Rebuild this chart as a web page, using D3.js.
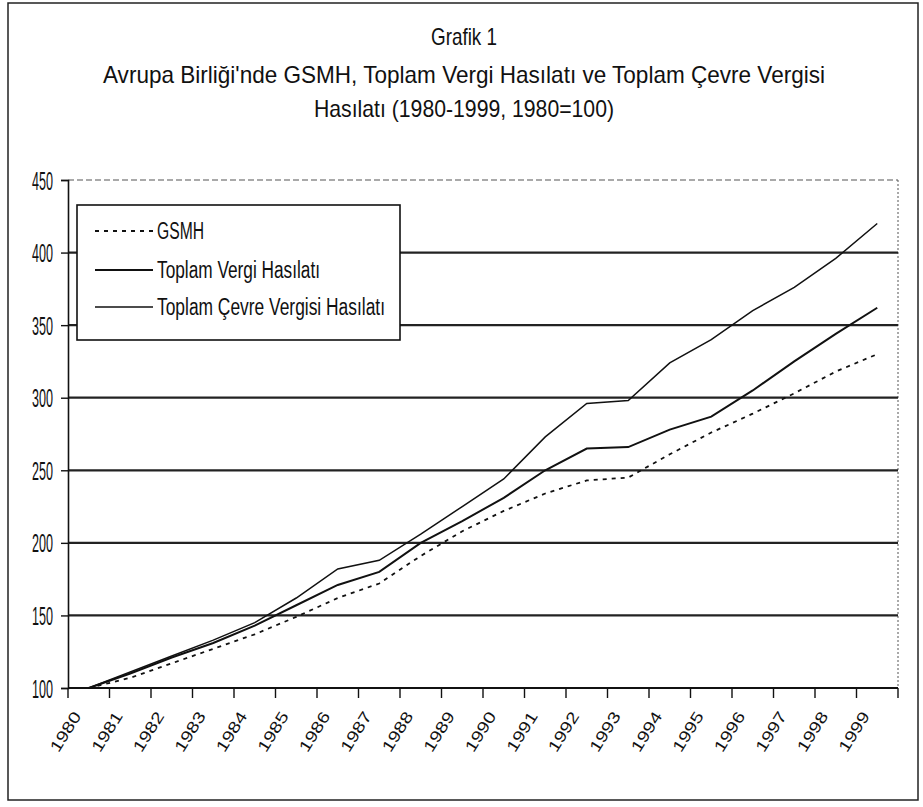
<!DOCTYPE html>
<html>
<head>
<meta charset="utf-8">
<script src="https://cdn.jsdelivr.net/npm/d3@7"></script>
<style>
  body { margin: 0; background: #fff; }
  text { font-family: "Liberation Sans", Arial, sans-serif; fill: #111; }
</style>
</head>
<body>
<svg id="chart" width="923" height="807"></svg>
<script>
const years = ["1980","1981","1982","1983","1984","1985","1986","1987","1988","1989",
               "1990","1991","1992","1993","1994","1995","1996","1997","1998","1999"];
const gsmh   = [100,107,117,127,137,149,162,172,191,208,222,234,243,245,261,276,289,303,318,330];
const vergi  = [100,110,121,131,143,157,171,180,200,215,231,250,265,266,278,287,305,325,344,362];
const cevre  = [100,111,122,133,145,162,182,188,206,225,244,273,296,298,324,340,360,376,396,420];
const yTicks = [100,150,200,250,300,350,400,450];
const seriesNames = ["GSMH", "Toplam Vergi Hasılatı", "Toplam Çevre Vergisi Hasılatı"];
const titleLines = ["Grafik 1",
  "Avrupa Birliği'nde GSMH, Toplam Vergi Hasılatı ve Toplam Çevre Vergisi",
  "Hasılatı (1980-1999, 1980=100)"];

const svg = d3.select("#chart");

svg.append("rect").attr("x", 8).attr("y", 3).attr("width", 910).attr("height", 797)
  .attr("fill", "none").attr("stroke", "#222").attr("stroke-width", 1.5);

const titleSpec = [{y: 45, len: 66}, {y: 83, len: 722}, {y: 117, len: 300}];
titleLines.forEach((t, i) => {
  svg.append("text").attr("x", 464).attr("y", titleSpec[i].y)
    .attr("text-anchor", "middle").attr("font-size", 24)
    .attr("textLength", titleSpec[i].len).attr("lengthAdjust", "spacingAndGlyphs")
    .text(t);
});

const x = d3.scaleBand().domain(years).range([68, 898]).paddingInner(0).paddingOuter(0);
const y = d3.scaleLinear().domain([100, 450]).range([688, 180]);
const cx = d => x(d) + x.bandwidth() / 2;

svg.append("line").attr("x1", 68).attr("x2", 898).attr("y1", y(450)).attr("y2", y(450))
  .attr("stroke", "#555").attr("stroke-width", 1.2).attr("stroke-dasharray", "6,3");
svg.append("line").attr("x1", 898).attr("x2", 898).attr("y1", y(450)).attr("y2", y(100))
  .attr("stroke", "#555").attr("stroke-width", 1).attr("stroke-dasharray", "2,2");

svg.append("g").selectAll("line").data(yTicks.filter(v => v > 100 && v < 450)).join("line")
  .attr("x1", 68).attr("x2", 898).attr("y1", d => y(d)).attr("y2", d => y(d))
  .attr("stroke", "#222").attr("stroke-width", 2.2);

const yAxis = svg.append("g").attr("transform", "translate(68,0)")
  .call(d3.axisLeft(y).tickValues(yTicks).tickSize(7).tickPadding(8).tickFormat(d3.format("d")));
yAxis.select(".domain").attr("stroke", "#111").attr("stroke-width", 1.6);
yAxis.selectAll(".tick line").attr("stroke", "#111").attr("stroke-width", 1.4);
yAxis.selectAll("text").attr("font-size", 25).attr("fill", "#111").attr("dy", "0.36em")
  .attr("textLength", 21).attr("lengthAdjust", "spacingAndGlyphs")
  .style("font-family", "'Liberation Sans', Arial, sans-serif");

svg.append("line").attr("x1", 68).attr("x2", 898).attr("y1", y(100)).attr("y2", y(100))
  .attr("stroke", "#111").attr("stroke-width", 2.2);
const bounds = years.map(d => x(d)).concat([x(years[years.length - 1]) + x.bandwidth()]);
svg.append("g").selectAll("line").data(bounds).join("line")
  .attr("x1", d => d).attr("x2", d => d).attr("y1", y(100)).attr("y2", y(100) + 10)
  .attr("stroke", "#111").attr("stroke-width", 1.4);
svg.append("g").selectAll("text").data(years).join("text")
  .attr("transform", d => `translate(${cx(d) - 7},${y(100) + 28}) rotate(-58)`)
  .attr("text-anchor", "end").attr("font-size", 16).attr("fill", "#666")
  .attr("textLength", 44).attr("lengthAdjust", "spacingAndGlyphs")
  .text(d => d);

const line = d3.line().x((d, i) => cx(years[i])).y(d => y(d));
const series = [
  {vals: gsmh, dash: "4,5", w: 1.8},
  {vals: vergi, dash: null, w: 2},
  {vals: cevre, dash: null, w: 1.5}
];
series.forEach(s => {
  svg.append("path").datum(s.vals).attr("d", line).attr("fill", "none")
    .attr("stroke", "#111").attr("stroke-width", s.w)
    .attr("stroke-dasharray", s.dash);
});

const lg = svg.append("g");
lg.append("rect").attr("x", 77).attr("y", 205).attr("width", 323).attr("height", 135)
  .attr("fill", "#fff").attr("stroke", "#111").attr("stroke-width", 1.6);
const legY = [231, 270, 307];
const legLen = [47, 163, 228];
seriesNames.forEach((n, i) => {
  lg.append("line").attr("x1", 95).attr("x2", 153).attr("y1", legY[i]).attr("y2", legY[i])
    .attr("stroke", "#111").attr("stroke-width", series[i].w)
    .attr("stroke-dasharray", series[i].dash);
  lg.append("text").attr("x", 157).attr("y", legY[i] + 8).attr("font-size", 23)
    .attr("textLength", legLen[i]).attr("lengthAdjust", "spacingAndGlyphs").text(n);
});
</script>
</body>
</html>
